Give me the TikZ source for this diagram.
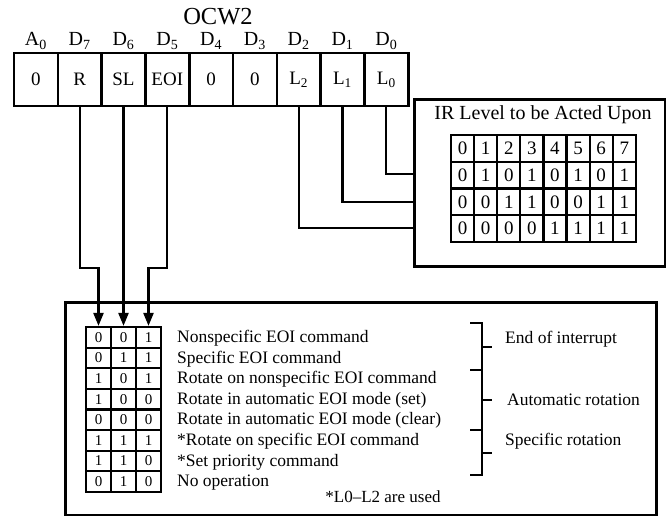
\documentclass[tikz,border=0pt]{standalone}
\usepackage{fontspec}
\setmainfont{Liberation Serif}
\usetikzlibrary{arrows.meta}
\begin{document}
\begin{tikzpicture}[x=1pt,y=-1pt,
  regcell/.style={draw,line width=2.6pt,minimum width=43.8pt,minimum height=53pt,inner sep=0pt,font=\fontsize{19}{19}\selectfont},
  toplab/.style={inner sep=0pt,font=\fontsize{20}{20}\selectfont},
  bigbox/.style={draw,line width=2.6pt,inner sep=0pt},
  ircell/.style={draw,line width=2.2pt,minimum width=23.1pt,minimum height=26.75pt,inner sep=0pt,font=\fontsize{19}{19}\selectfont},
  bcell/.style={draw,line width=2.2pt,minimum width=25pt,minimum height=20.6pt,inner sep=0pt,font=\fontsize{15}{15}\selectfont},
  rowtxt/.style={anchor=west,inner sep=0pt,font=\fontsize{17.5}{17.5}\selectfont},
  conn/.style={line width=2.3pt},
  arr/.style={line width=2.3pt,-{Triangle[width=10pt,length=13pt]}},
  brk/.style={line width=2.3pt}
]
\useasboundingbox (0,0) rectangle (666,516);

% title
\node[inner sep=0pt,font=\fontsize{24.5}{24.5}\selectfont] (ocw) at (218,17) {OCW2};

% register
\foreach \t [count=\i from 0] in {0,R,SL,EOI,0,0,{L\textsubscript{2}},{L\textsubscript{1}},{L\textsubscript{0}}}
  \node[regcell] (c\i) at ({14+43.8*(\i+0.5)},79.5) {\t};
\foreach \t [count=\i from 0] in {{A\textsubscript{0}},{D\textsubscript{7}},{D\textsubscript{6}},{D\textsubscript{5}},{D\textsubscript{4}},{D\textsubscript{3}},{D\textsubscript{2}},{D\textsubscript{1}},{D\textsubscript{0}}}
  \node[toplab] (t\i) at ({14+43.8*(\i+0.5)},41) {\t};

% IR box
\node[bigbox,anchor=north west,minimum width=251pt,minimum height=167pt] (irbox) at (413,98) {};
\node[inner sep=0pt,font=\fontsize{20}{20}\selectfont] (irtitle) at (543,115) {IR Level to be Acted Upon};
\foreach \row [count=\r from 0] in {{0,1,2,3,4,5,6,7},{0,1,0,1,0,1,0,1},{0,0,1,1,0,0,1,1},{0,0,0,0,1,1,1,1}}
  \foreach \v [count=\c from 0] in \row
    \node[ircell] (ir\r-\c) at ({451+23.1*(\c+0.5)},{135+26.75*(\r+0.5)}) {\v};

% bottom box
\node[bigbox,anchor=north west,minimum width=591pt,minimum height=213pt] (botbox) at (64,301) {};
\foreach \a/\b/\cc/\txt [count=\r from 0] in {
  0/0/1/Nonspecific EOI command,
  0/1/1/Specific EOI command,
  1/0/1/Rotate on nonspecific EOI command,
  1/0/0/Rotate in automatic EOI mode (set),
  0/0/0/Rotate in automatic EOI mode (clear),
  1/1/1/*Rotate on specific EOI command,
  1/1/0/*Set priority command,
  0/1/0/No operation}
{
  \node[bcell] (b\r-0) at (98.5,{327+20.6*(\r+0.5)}) {\a};
  \node[bcell] (b\r-1) at (123.5,{327+20.6*(\r+0.5)}) {\b};
  \node[bcell] (b\r-2) at (148.5,{327+20.6*(\r+0.5)}) {\cc};
  \node[rowtxt] (l\r) at (177,{327+20.6*(\r+0.5)+1}) {\txt};
}
\node[inner sep=0pt,font=\fontsize{17}{17}\selectfont] (note) at (383,497) {*L0–L2 are used};

% brackets
\draw[brk] (470,323) -- (482,323) -- (482,475) -- (470,475);
\draw[brk] (470,370) -- (482,370);
\draw[brk] (470,430) -- (482,430);
\draw[brk] (482,347) -- (492,347);
\draw[brk] (482,400) -- (492,400);
\draw[brk] (482,453) -- (492,453);
\node[rowtxt] (g1) at (505,339) {End of interrupt};
\node[rowtxt] (g2) at (507,400) {Automatic rotation};
\node[rowtxt] (g3) at (505,441) {Specific rotation};

% connectors
\draw[arr] (c1.south) -- (c1.south |- 0,268) -| (b0-0.north);
\draw[arr] (c2.south) -- (c2.south |- b0-1.north);
\draw[arr] (c3.south) -- (c3.south |- 0,268) -| (b0-2.north);
\draw[conn] (c8.south) |- (irbox.west |- 0,174);
\draw[conn] (c7.south) |- (irbox.west |- 0,202);
\draw[conn] (c6.south) |- (irbox.west |- 0,228);
\end{tikzpicture}
\end{document}
